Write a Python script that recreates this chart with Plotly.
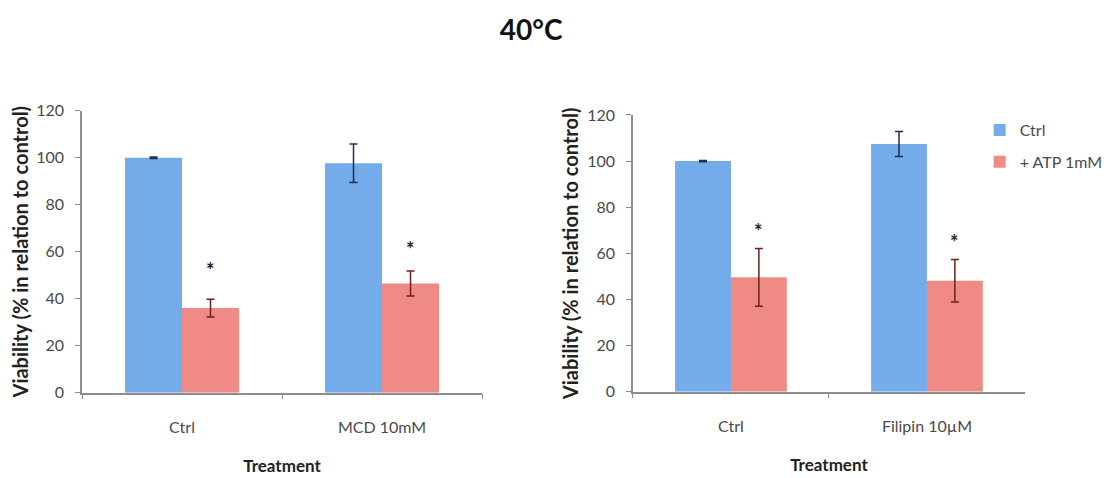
import plotly.graph_objects as go
from plotly.subplots import make_subplots

# ---- data ----
left_categories = ["Ctrl", "MCD 10mM"]
left_ctrl = [100, 97.6]
left_ctrl_err = [0.3, 8.2]
left_atp = [36, 46.5]
left_atp_err = [3.8, 5.3]
left_star_y = [54, 62.8]

right_categories = ["Ctrl", "Filipin 10µM"]
right_ctrl = [100, 107.4]
right_ctrl_err = [0.3, 5.4]
right_atp = [49.6, 48.1]
right_atp_err = [12.5, 9.2]
right_star_y = [71.6, 66.8]

series_names = ["Ctrl", "+ ATP 1mM"]
y_ticks = [0, 20, 40, 60, 80, 100, 120]

# ---- style ----
BLUE = "#74abeb"
RED = "#f08a84"
BLUE_ERR = "#1e2f4d"
RED_ERR = "#6a211c"
AXIS = "#8c8c8c"
TXT = "#4a4a4a"
FONT = "Lato"

fig = make_subplots(rows=1, cols=2)

panels = [
    (1, left_categories, left_ctrl, left_ctrl_err, left_atp, left_atp_err, left_star_y),
    (2, right_categories, right_ctrl, right_ctrl_err, right_atp, right_atp_err, right_star_y),
]

for col, cats, c_vals, c_err, a_vals, a_err, stars in panels:
    show = col == 2
    fig.add_trace(go.Bar(
        x=cats, y=c_vals, name=series_names[0], legendgroup="a",
        marker=dict(color=BLUE, line=dict(width=0)),
        error_y=dict(type="data", array=c_err, visible=True, color=BLUE_ERR, thickness=1.5, width=4),
        showlegend=show,
    ), row=1, col=col)
    fig.add_trace(go.Bar(
        x=cats, y=a_vals, name=series_names[1], legendgroup="b",
        marker=dict(color=RED, line=dict(width=0)),
        error_y=dict(type="data", array=a_err, visible=True, color=RED_ERR, thickness=1.5, width=4),
        showlegend=show,
    ), row=1, col=col)
    xref = "x" if col == 1 else "x2"
    yref = "y" if col == 1 else "y2"
    for cat, sy in zip(cats, stars):
        fig.add_annotation(x=cat, y=sy, xref=xref, yref=yref, text="<b>*</b>",
                           showarrow=False, xshift=28, yshift=-4,
                           font=dict(family=FONT, size=20, color="#222"))

axis_common = dict(showline=True, linecolor=AXIS, linewidth=1.5, ticks="outside",
                   tickcolor=AXIS, ticklen=5, tickwidth=1.2, automargin=False,
                   tickfont=dict(family=FONT, size=16, color=TXT), showgrid=False, zeroline=False)

fig.update_xaxes(**axis_common, tickson="boundaries", ticklabelstandoff=19,
                 title=dict(text="<b>Treatment</b>", font=dict(family=FONT, size=17, color="#222"), standoff=25))
fig.update_yaxes(**axis_common, range=[0, 120], tickvals=y_ticks, ticklabelstandoff=8,
                 title=dict(text="<b>Viability (% in relation to control)</b>",
                            font=dict(family=FONT, size=20, color="#222"), standoff=3))

fig.update_layout(
    xaxis=dict(domain=[0.0665, 0.4259]),
    xaxis2=dict(domain=[0.5615, 0.9137]),
    yaxis=dict(domain=[0.1952, 0.7851]),
    yaxis2=dict(domain=[0.1973, 0.7762]),
)

fig.update_layout(
    width=1113, height=478,
    margin=dict(l=0, r=0, t=0, b=0, autoexpand=False),
    paper_bgcolor="white", plot_bgcolor="white",
    barmode="group", bargap=0.43, bargroupgap=0,
    title=dict(text="<b>40°C</b>", x=0.47, xanchor="center", y=0.953, yanchor="middle",
               font=dict(family=FONT, size=28, color="#111")),
    legend=dict(x=0.873, y=0.78, xanchor="left", yanchor="top", bgcolor="rgba(0,0,0,0)",
                font=dict(family=FONT, size=16, color=TXT), tracegroupgap=8,
                traceorder="grouped", itemwidth=30),
    font=dict(family=FONT),
)

fig.write_html("out.html")
